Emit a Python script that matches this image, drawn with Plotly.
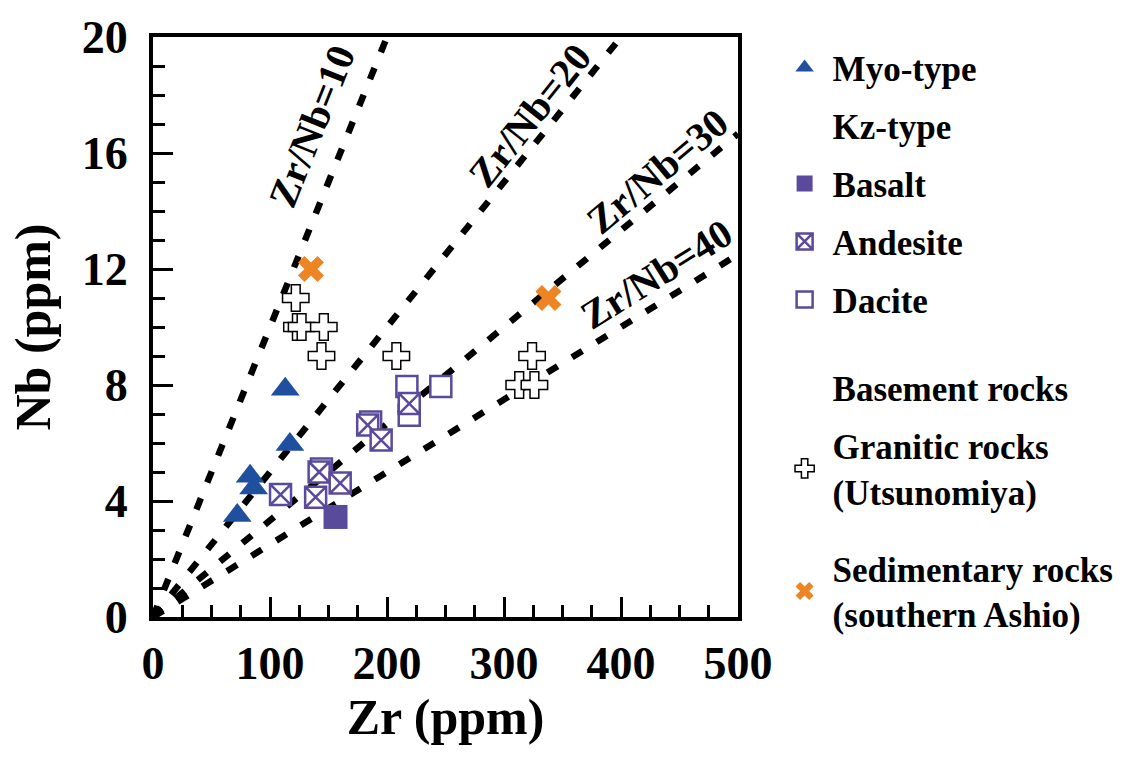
import math
import plotly.graph_objects as go

# Zr / Nb data (ppm)
myo_zr = [113, 117, 83, 86, 72]
myo_nb = [7.85, 5.95, 4.85, 4.45, 3.5]

basalt_zr = [156]
basalt_nb = [3.45]

andesite_zr = [219, 183.5, 195, 142, 160, 139, 109]
andesite_nb = [7.36, 6.62, 6.1, 5.0, 4.62, 4.13, 4.22]

dacite_zr = [217, 246, 219, 186, 144]
dacite_nb = [7.95, 7.95, 6.96, 6.72, 5.1]

granitic_zr = [122, 123, 127, 146, 144, 208, 324, 313, 326]
granitic_nb = [11, 10, 10, 10, 9, 9, 9, 8, 8]

sediment_zr = [135, 338]
sediment_nb = [12, 11]

ratios = [10, 20, 30, 40]
label_pos = [(136, 16.9), (322, 17.3), (431, 15.35), (430, 11.8)]

X_MAX, Y_MAX = 500, 20
FONT = "Liberation Serif"
PURPLE = "#5a4a9c"
BLUE = "#1f4f9f"
ORANGE = "#ee8524"

PLOT_W, PLOT_H = 585, 586

fig = go.Figure()

# constant Zr/Nb reference lines through the origin
for r in ratios:
    x_end = min(X_MAX, r * Y_MAX)
    fig.add_trace(go.Scatter(
        x=[0, x_end], y=[0, x_end / r], mode="lines",
        line=dict(color="black", width=6.5, dash="12px,17px"),
        showlegend=False, hoverinfo="skip"))

fig.add_trace(go.Scatter(
    x=myo_zr, y=myo_nb, mode="markers", name="Myo-type",
    legendgroup="g1", legendrank=1,
    marker=dict(symbol="triangle-up", size=25, color=BLUE)))

# heading entries in the legend
fig.add_trace(go.Scatter(
    x=[None], y=[None], mode="markers", name="Kz-type",
    legendgroup="g2", legendrank=2,
    marker=dict(size=1, color="rgba(0,0,0,0)")))

fig.add_trace(go.Scatter(
    x=dacite_zr, y=dacite_nb, mode="markers", name="Dacite",
    legendgroup="g5", legendrank=5,
    marker=dict(symbol="square", size=21, color="white",
                line=dict(color=PURPLE, width=2.5))))

fig.add_trace(go.Scatter(
    x=andesite_zr, y=andesite_nb, mode="markers", name="Andesite",
    legendgroup="g4", legendrank=4,
    marker=dict(symbol="square-x", size=21, color="white",
                line=dict(color=PURPLE, width=2.5))))

fig.add_trace(go.Scatter(
    x=basalt_zr, y=basalt_nb, mode="markers", name="Basalt",
    legendgroup="g3", legendrank=3,
    marker=dict(symbol="square", size=24, color=PURPLE)))

fig.add_trace(go.Scatter(
    x=[None], y=[None], mode="markers", name="Basement rocks",
    legendgroup="g6", legendrank=6,
    legendgrouptitle=dict(text=" ", font=dict(size=21)),
    marker=dict(size=1, color="rgba(0,0,0,0)")))

fig.add_trace(go.Scatter(
    x=granitic_zr, y=granitic_nb, mode="markers",
    name="Granitic rocks<br>(Utsunomiya)",
    legendgroup="g7", legendrank=7,
    marker=dict(symbol="cross", size=22, color="white",
                line=dict(color="black", width=1.5))))

fig.add_trace(go.Scatter(
    x=sediment_zr, y=sediment_nb, mode="markers",
    name="Sedimentary rocks<br>(southern Ashio)",
    legendgroup="g8", legendrank=8,
    legendgrouptitle=dict(text=" ", font=dict(size=4)),
    marker=dict(symbol="x", size=23, color=ORANGE)))

# labels along the reference lines, rotated to the on-screen slope
px_per_x = PLOT_W / X_MAX
px_per_y = PLOT_H / Y_MAX
for r, (lx, ly) in zip(ratios, label_pos):
    ang = math.degrees(math.atan((px_per_y / r) / px_per_x))
    fig.add_annotation(
        x=lx, y=ly, text=f"Zr/Nb={r}", showarrow=False,
        textangle=-ang,
        font=dict(family=FONT, size=40, color="black", weight="bold"))

axis_common = dict(
    showline=True, linecolor="black", linewidth=4, mirror=True,
    ticks="inside", tickcolor="black", tickwidth=3, ticklen=20,
    showgrid=False, zeroline=False,
    tickfont=dict(family=FONT, size=46, color="black", weight="bold"),
)

fig.update_xaxes(
    range=[0, X_MAX], dtick=100, tick0=0, ticklabelstandoff=3,
    minor=dict(dtick=25, ticks="inside", ticklen=12, tickwidth=3, tickcolor="black"),
    title=dict(text="Zr (ppm)", standoff=12,
               font=dict(family=FONT, size=50, color="black", weight="bold")),
    **axis_common)
fig.update_yaxes(
    range=[0, Y_MAX], dtick=4, tick0=0, ticklabelstandoff=12,
    minor=dict(dtick=1, ticks="inside", ticklen=12, tickwidth=3, tickcolor="black"),
    title=dict(text="Nb (ppm)", standoff=16,
               font=dict(family=FONT, size=50, color="black", weight="bold")),
    **axis_common)

fig.update_layout(
    width=1139, height=764,
    margin=dict(l=153, r=401, t=31, b=147),
    paper_bgcolor="white", plot_bgcolor="white",
    legend=dict(
        x=1.066, y=0.998, xanchor="left", yanchor="top",
        traceorder="grouped", tracegroupgap=9.5, itemwidth=46,
        maxheight=740,
        font=dict(family=FONT, size=35, color="black", weight="bold"),
        bgcolor="rgba(0,0,0,0)", borderwidth=0),
)

fig.write_html("out.html")
